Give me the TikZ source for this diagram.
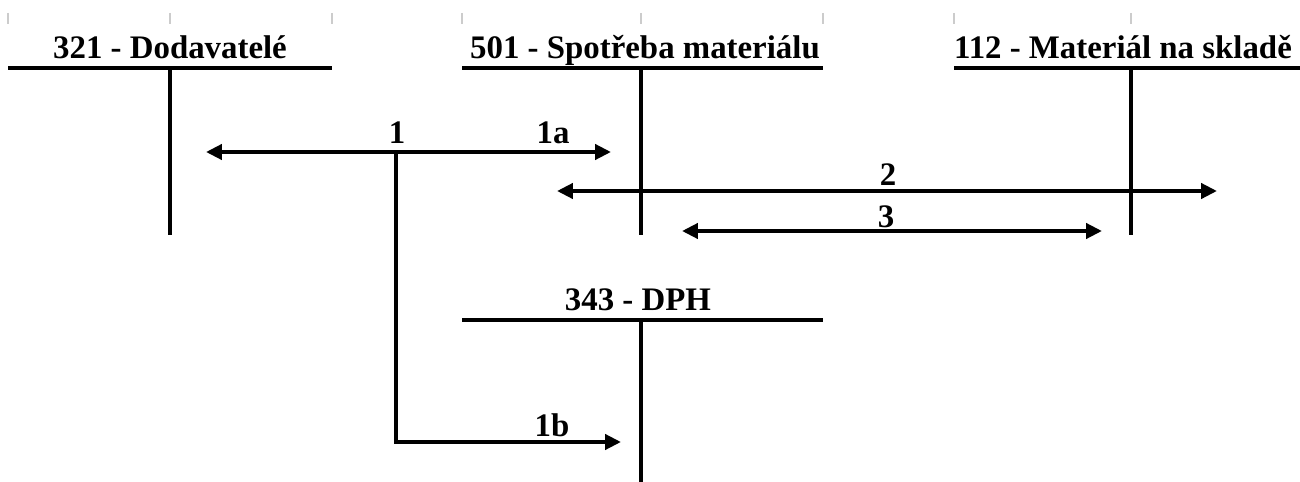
\documentclass[tikz,border=0pt]{standalone}
\usepackage{fontspec}
\setmainfont{Liberation Serif}
\usepackage{tikz}
\usetikzlibrary{positioning, arrows.meta}

\begin{document}
\begin{tikzpicture}[
    >={Triangle[length=9pt, width=8.5pt]},
    acct/.style={line width=2.4pt, draw=black},
    tick/.style={line width=0.8pt, draw=black!20},
    title/.style={
        anchor=base,
        inner sep=0pt,
        font=\fontsize{18.7}{20}\selectfont\bfseries
    },
    lbl/.style={title},
    arrow/.style={->, line width=2.2pt, draw=black}
]
\useasboundingbox (0,0) rectangle (26,-9.64);

% grey marks at the top
\foreach \x in {0.16, 3.4, 6.64, 9.24, 12.82, 16.46, 19.08, 22.62}
    \draw[tick] (\x,-0.26) -- (\x,-0.48);

% T-accounts
\node[title] (t321) at (3.4, -1.17) {321 - Dodavatelé};
\node[title] (t501) at (12.9, -1.17) {501 - Spotřeba materiálu};
\node[title] (t112) at (22.46, -1.17) {112 - Materiál na skladě};
\node[title] (t343) at (12.76, -6.2) {343 - DPH};

\coordinate (d321L) at (0.16,-1.36);  \coordinate (d321R) at (6.64,-1.36);
\coordinate (d321T) at (3.4,-1.36);   \coordinate (d321B) at (3.4,-4.7);
\coordinate (d501L) at (9.24,-1.36);  \coordinate (d501R) at (16.46,-1.36);
\coordinate (d501T) at (12.82,-1.36); \coordinate (d501B) at (12.82,-4.7);
\coordinate (d112L) at (19.08,-1.36); \coordinate (d112R) at (26,-1.36);
\coordinate (d112T) at (22.62,-1.36); \coordinate (d112B) at (22.62,-4.7);
\coordinate (d343L) at (9.24,-6.4);   \coordinate (d343R) at (16.46,-6.4);
\coordinate (d343T) at (12.82,-6.4);  \coordinate (d343B) at (12.82,-9.64);

\draw[acct] (d321L) -- (d321R) (d321T) -- (d321B);
\draw[acct] (d501L) -- (d501R) (d501T) -- (d501B);
\draw[acct] (d112L) -- (d112R) (d112T) -- (d112B);
\draw[acct] (d343L) -- (d343R) (d343T) -- (d343B);

% postings
\coordinate (p1) at (7.92,-3.04);
\coordinate (p1L) at (4.12,-3.04);
\coordinate (p1a) at (12.22,-3.04);
\coordinate (p1c) at (7.92,-8.84);
\coordinate (p1b) at (12.42,-8.84);
\coordinate (p2L) at (11.14,-3.82);
\coordinate (p2R) at (24.34,-3.82);
\coordinate (p3L) at (13.64,-4.62);
\coordinate (p3R) at (22.04,-4.62);

\draw[arrow] (p1) -- (p1L);
\draw[arrow] (p1) -- (p1a);
\draw[arrow] (p1) -- (p1c) -- (p1b);
\draw[arrow, <->] (p2L) -- (p2R);
\draw[arrow, <->] (p3L) -- (p3R);

\node[lbl] (l1) at (7.94, -2.86) {1};
\node[lbl] (l1a) at (11.06, -2.86) {1a};
\node[lbl] (l1b) at (11.04, -8.72) {1b};
\node[lbl] (l2) at (17.76, -3.70) {2};
\node[lbl] (l3) at (17.72, -4.54) {3};

\end{tikzpicture}
\end{document}
